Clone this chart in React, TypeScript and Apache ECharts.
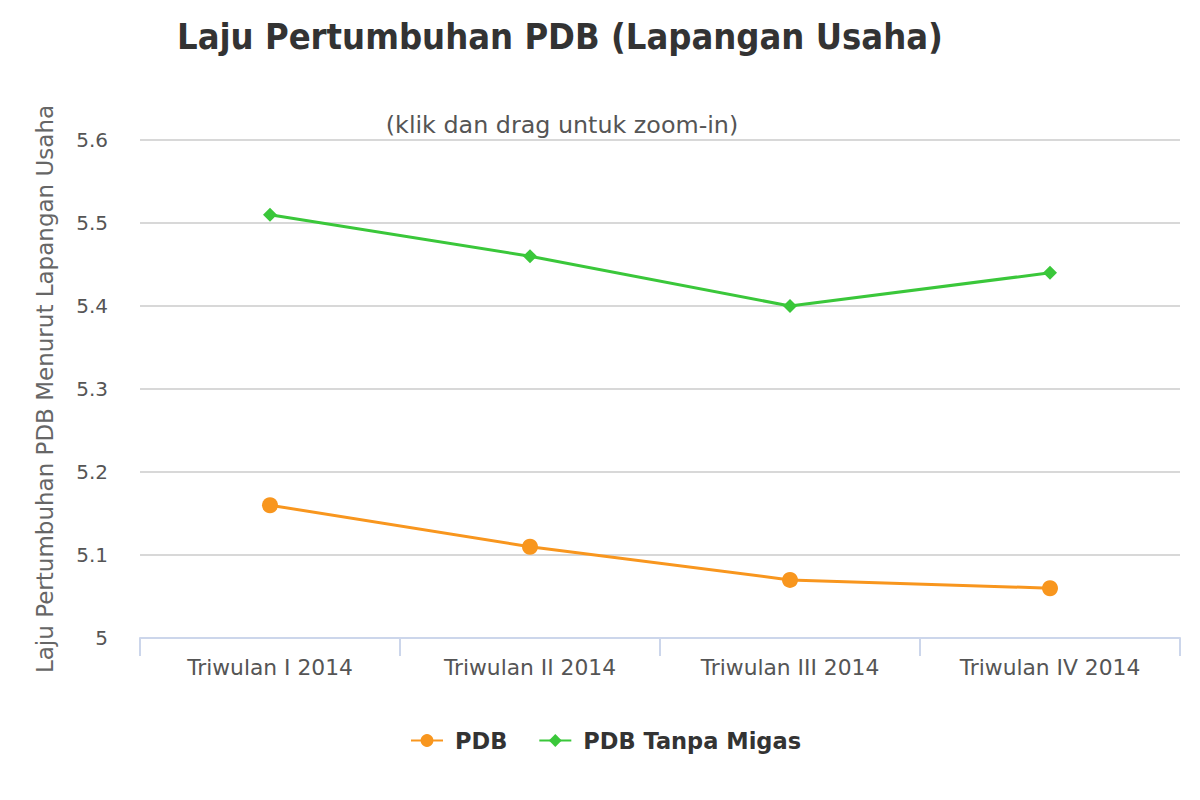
import React, { useEffect, useRef } from "react";
import * as echarts from "echarts";

const categories = ["Triwulan I 2014", "Triwulan II 2014", "Triwulan III 2014", "Triwulan IV 2014"];
const pdb = [5.16, 5.11, 5.07, 5.06];
const pdbTanpaMigas = [5.51, 5.46, 5.4, 5.44];
const yTicks = { min: 5, max: 5.6, interval: 0.1 };

export default function App() {
  const ref = useRef<HTMLDivElement>(null);
  useEffect(() => {
    if (!ref.current) return;
    const chart = echarts.init(ref.current, undefined, { renderer: "svg" });
    const font = "DejaVu Sans";
    chart.setOption({
      animation: false,
      backgroundColor: "#ffffff",
      title: [
        {
          text: "Laju Pertumbuhan PDB (Lapangan Usaha)",
          left: 172,
          top: 13,
          textStyle: { fontFamily: "DejaVu Sans Condensed", fontWeight: "bold", fontSize: 36, color: "#333333" },
        },
        {
          text: "(klik dan drag untuk zoom-in)",
          left: 557,
          textAlign: "center",
          top: 108,
          textStyle: { fontFamily: font, fontWeight: "normal", fontSize: 23.8, color: "#555555" },
        },
      ],
      legend: {
        bottom: 43,
        left: 405,
        itemGap: 31,
        itemWidth: 32,
        itemHeight: 16,
        textStyle: { fontFamily: font, fontWeight: "bold", fontSize: 22.5, color: "#333333", padding: [0, 0, 0, 7] },
        data: ["PDB", "PDB Tanpa Migas"],
      },
      grid: { left: 140, right: 20, top: 140, bottom: 162, containLabel: false },
      xAxis: {
        type: "category",
        data: categories,
        boundaryGap: true,
        axisLine: { lineStyle: { color: "#ccd6eb", width: 2 } },
        axisTick: { show: true, length: 18, lineStyle: { color: "#ccd6eb", width: 2 } },
        axisLabel: { fontFamily: font, fontSize: 21.8, color: "#555555", margin: 18 },
      },
      yAxis: {
        type: "value",
        min: yTicks.min,
        max: yTicks.max,
        interval: yTicks.interval,
        name: "Laju Pertumbuhan PDB Menurut Lapangan Usaha",
        nameLocation: "middle",
        nameGap: 84,
        nameTextStyle: { fontFamily: font, fontSize: 23, color: "#666666" },
        axisLine: { show: false },
        axisTick: { show: false },
        splitLine: { lineStyle: { color: "#d8d8d8", width: 2 } },
        axisLabel: {
          fontFamily: font,
          fontSize: 20,
          color: "#555555",
          margin: 32,
          formatter: (v: number) => (Math.abs(v - 5) < 1e-9 ? "5" : v.toFixed(1)),
        },
      },
      series: [
        {
          name: "PDB",
          type: "line",
          data: pdb,
          symbol: "circle",
          symbolSize: 16,
          lineStyle: { color: "#f8961e", width: 3 },
          itemStyle: { color: "#f8961e" },
        },
        {
          name: "PDB Tanpa Migas",
          type: "line",
          data: pdbTanpaMigas,
          symbol: "diamond",
          symbolSize: 14,
          lineStyle: { color: "#3ac73a", width: 3 },
          itemStyle: { color: "#3ac73a" },
        },
      ],
    });
    return () => chart.dispose();
  }, []);
  return <div ref={ref} style={{ position: "absolute", left: 0, top: 0, width: 1200, height: 800 }} />;
}
